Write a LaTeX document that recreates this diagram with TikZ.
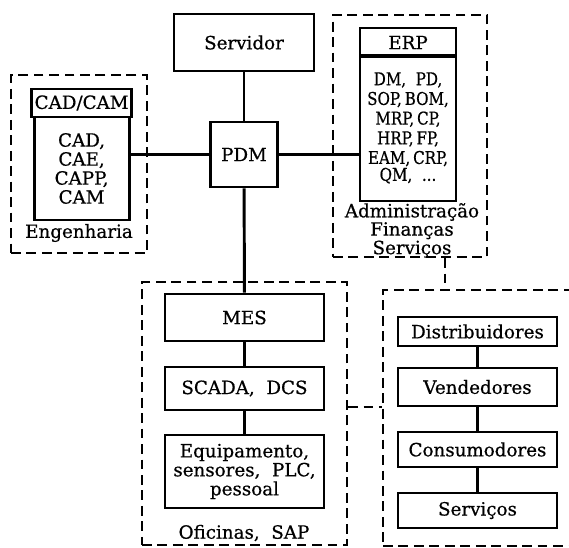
\documentclass[tikz,border=0pt]{standalone}
\usepackage{fontspec}
\setmainfont{DejaVu Serif}[FakeBold=0.6]
\newfontfamily\narrowfont{DejaVu Serif}[FakeStretch=0.86, FakeBold=0.6]
\usetikzlibrary{positioning}

\begin{document}
\begin{tikzpicture}[
    font=\fontsize{13}{13.5}\selectfont,
    blk/.style={draw, line width=2.1pt, rectangle, align=center, inner sep=2pt},
    area/.style={draw, line width=1.5pt, dash pattern=on 7pt off 4pt, rectangle},
    lbl/.style={align=center, inner sep=0pt},
    link/.style={line width=2.1pt},
    dlink/.style={line width=1.5pt, dash pattern=on 7pt off 4pt}
]
\useasboundingbox (0,0) rectangle (14.225,-13.675);

% dashed areas
\node[area, minimum width=3.4cm, minimum height=4.45cm] (eng) at (1.975,-4.1) {};
\node[area, minimum width=3.85cm, minimum height=6.05cm] (adm) at (10.25,-3.4) {};
\node[area, minimum width=5.125cm, minimum height=6.575cm] (ofi) at (6.1125,-10.3375) {};
\node[area, minimum width=5.175cm, minimum height=6.4cm] (cli) at (12.1625,-10.45) {};

\node[lbl] (englbl) at (1.975,-5.825) {Engenharia};
\node[lbl, font=\fontsize{13}{10.7}\selectfont] (admlbl) at (10.3,-5.76) {Administração\\Finanças\\Serviços};
\node[lbl] (ofilbl) at (6.1,-13.325) {Oficinas,\ \ SAP};

% centre
\node[blk, minimum width=3.5cm, minimum height=1.425cm] (srv) at (6.1,-1.0625) {Servidor};
\node[blk, minimum width=1.675cm, minimum height=1.625cm] (pdm) at (6.1,-3.8625) {PDM};

% CAD/CAM
\node[blk, minimum width=2.375cm, minimum height=0.7cm] (cadhead) at (2.04,-2.575) {CAD/CAM};
\node[blk, minimum width=2.375cm, minimum height=2.575cm] (cadbody) at (2.04,-4.2125) {CAD,\\CAE,\\CAPP,\\CAM};

% ERP
\node[blk, minimum width=2.4cm, minimum height=0.725cm] (erphead) at (10.2,-1.0625) {ERP};
\node[blk, minimum width=2.4cm, minimum height=3.65cm, font=\narrowfont\fontsize{12.5}{14}\selectfont] (erpbody) at (10.2,-3.2)
    {DM,\ \ PD,\\SOP,\,BOM,\\MRP,\,CP,\\HRP,\,FP,\\EAM,\,CRP,\\[-2pt]QM,\ \ ...};

% shop floor
\node[blk, minimum width=3.975cm, minimum height=1.175cm] (mes) at (6.1125,-7.9375) {MES};
\node[blk, minimum width=3.975cm, minimum height=1.075cm] (scada) at (6.1125,-9.7125) {SCADA,\ \ DCS};
\node[blk, minimum width=3.975cm, minimum height=1.825cm] (equip) at (6.1125,-11.7875) {Equipamento,\\sensores,\ \ PLC,\\pessoal};

% supply chain
\node[blk, minimum width=3.975cm, minimum height=0.725cm] (dist) at (11.9375,-8.2875) {Distribuidores};
\node[blk, minimum width=3.975cm, minimum height=0.95cm] (vend) at (11.9375,-9.675) {Vendedores};
\node[blk, minimum width=3.975cm, minimum height=0.875cm] (cons) at (11.9375,-11.2375) {Consumodores};
\node[blk, minimum width=3.975cm, minimum height=0.875cm] (serv) at (11.9375,-12.7625) {Serviços};

% links
\draw[link] (srv) -- (pdm);
\draw[link] (pdm.west) -- (pdm.west -| cadbody.east);
\draw[link] (pdm.east) -- (pdm.east -| erpbody.west);
\draw[link] (pdm) -- (mes);
\draw[link] (mes) -- (scada);
\draw[link] (scada) -- (equip);
\draw[link] (dist) -- (vend);
\draw[link] (vend) -- (cons);
\draw[link] (cons) -- (serv);

\coordinate (tapx) at (11.125,0);
\coordinate (tapy) at (0,-10.175);
\draw[dlink] (adm.south -| tapx) -- (cli.north -| tapx);
\draw[dlink] (ofi.east |- tapy) -- (cli.west |- tapy);

\end{tikzpicture}
\end{document}
